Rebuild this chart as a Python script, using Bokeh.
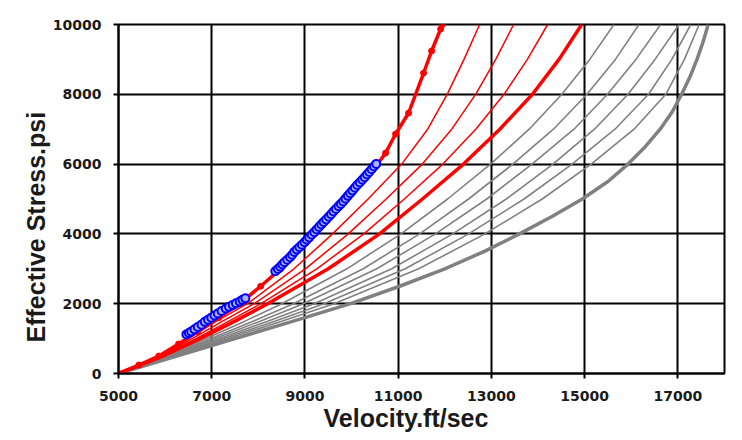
from bokeh.plotting import figure
from bokeh.models import Range1d, FixedTicker, Title
from bokeh.embed import file_html
from bokeh.resources import INLINE

# ---- data ----
stress = [0, 250, 500, 1000, 1500, 2000, 3000, 4000, 5000, 6000, 7000, 8000, 9000, 10000]

red_thin_1 = [5000, 5451, 5889, 6498, 7104, 7768, 8766, 9592, 10354, 11075, 11632, 12051, 12412, 12747]
red_thin_2 = [5000, 5461, 5909, 6582, 7236, 7912, 9010, 9928, 10742, 11517, 12148, 12661, 13092, 13476]
red_thin_3 = [5000, 5470, 5930, 6666, 7368, 8056, 9255, 10264, 11131, 11958, 12664, 13270, 13771, 14206]
red_thick = [5000, 5480, 5950, 6750, 7500, 8200, 9500, 10600, 11520, 12400, 13180, 13880, 14450, 14936]

grey_1 = [5000, 5505, 6001, 6878, 7713, 8503, 9900, 11060, 12060, 12980, 13810, 14510, 15110, 15628]
grey_2 = [5000, 5525, 6043, 6983, 7888, 8752, 10250, 11460, 12510, 13460, 14330, 15050, 15660, 16166]
grey_3 = [5000, 5542, 6079, 7073, 8038, 8965, 10540, 11800, 12900, 13870, 14770, 15490, 16100, 16631]
grey_4 = [5000, 5561, 6118, 7170, 8200, 9197, 10860, 12170, 13320, 14320, 15210, 15930, 16510, 17026]
grey_5 = [5000, 5579, 6154, 7260, 8350, 9410, 11150, 12510, 13700, 14730, 15650, 16370, 16870, 17278]
grey_6 = [5000, 5596, 6190, 7350, 8500, 9624, 11440, 12860, 14090, 15140, 16060, 16740, 17140, 17456]

stress_outer = [0, 250, 500, 1000, 1500, 2000, 2500, 3000, 3500, 4000, 4500, 5000, 5500,
                6000, 6500, 7000, 7500, 8000, 8500, 9000, 9500, 10000]
grey_thick = [5000, 5625, 6250, 7500, 8750, 9980, 11030, 12000, 12850, 13600, 14300, 14950, 15500,
              15930, 16300, 16620, 16880, 17080, 17260, 17410, 17540, 17650]

trend_velocity = [5000, 5436, 5865, 6288, 6700, 7150, 7600, 8050, 8480, 9200, 9900, 10560,
                  10730, 10944, 11223, 11545, 11717, 11910, 11950]
trend_stress = [0, 243, 501, 845, 1200, 1600, 2000, 2500, 3000, 4000, 5000, 6000,
                6318, 6862, 7464, 8610, 9241, 9871, 10000]

blue1_velocity = [6457, 6510, 6560, 6630, 6700, 6780, 6850, 6920, 6990, 7060, 7130,
                  7210, 7300, 7370, 7450, 7520, 7600, 7660, 7721]
blue1_stress = [1121, 1160, 1200, 1265, 1330, 1400, 1480, 1540, 1600, 1660, 1720,
                1790, 1860, 1910, 1960, 2010, 2060, 2110, 2155]
blue2_velocity = [8364, 8420, 8470, 8515, 8560, 8620, 8680, 8725, 8770, 8825, 8880, 8935,
                  8990, 9040, 9090, 9145, 9200, 9250, 9300, 9350, 9400, 9455, 9510, 9560,
                  9610, 9665, 9720, 9770, 9820, 9870, 9920, 9970, 10020, 10070, 10120,
                  10175, 10230, 10280, 10330, 10380, 10430, 10480, 10529]
blue2_stress = [2931, 2995, 3060, 3125, 3190, 3260, 3330, 3405, 3480, 3550, 3620, 3690,
                3760, 3830, 3900, 3975, 4050, 4125, 4200, 4270, 4340, 4415, 4490, 4565,
                4640, 4715, 4790, 4860, 4930, 5010, 5090, 5165, 5240, 5320, 5400,
                5475, 5550, 5625, 5700, 5775, 5850, 5930, 6006]

x_ticks = [5000, 7000, 9000, 11000, 13000, 15000, 17000]
y_ticks = [0, 2000, 4000, 6000, 8000, 10000]
x_title = "Velocity.ft/sec"
y_title = "Effective Stress.psi"

# ---- figure ----
p = figure(width=740, height=438, x_range=Range1d(5000, 18000), y_range=Range1d(0, 10000),
           output_backend="svg", toolbar_location=None,
           min_border_left=118, min_border_right=16, min_border_top=24, min_border_bottom=65)
p.background_fill_color = "white"
p.border_fill_color = "white"
p.outline_line_color = "black"
p.outline_line_width = 2

p.xaxis.ticker = FixedTicker(ticks=x_ticks)
p.yaxis.ticker = FixedTicker(ticks=y_ticks)
for ax in (p.xaxis[0], p.yaxis[0]):
    ax.major_label_text_font = "DejaVu Sans"
    ax.major_label_text_font_style = "bold"
    ax.major_label_text_font_size = "14px"
    ax.major_label_text_color = "#1a1a1a"
    ax.axis_line_color = "black"
    ax.axis_line_width = 2
    ax.major_tick_line_color = "black"
    ax.major_tick_line_width = 2
    ax.major_tick_out = 5
    ax.major_tick_in = 0
    ax.minor_tick_line_color = None
    ax.major_label_standoff = 12
p.yaxis.formatter.use_scientific = False
p.xaxis.formatter.use_scientific = False

p.xgrid.grid_line_color = "black"
p.xgrid.grid_line_width = 2
p.ygrid.grid_line_color = "black"
p.ygrid.grid_line_width = 2

grey = "#808080"
for g in (grey_1, grey_2, grey_3, grey_4, grey_5, grey_6):
    p.line(g, stress, line_color=grey, line_width=1.6)
p.line(grey_thick, stress_outer, line_color=grey, line_width=3.5)

for r in (red_thin_1, red_thin_2, red_thin_3):
    p.line(r, stress, line_color="red", line_width=1.5)
p.line(red_thick, stress, line_color="red", line_width=3.5)

p.line(trend_velocity, trend_stress, line_color="red", line_width=3.5)
p.scatter(trend_velocity, trend_stress, marker="circle", size=6, fill_color="red", line_color="red")

for bv, bs in ((blue1_velocity, blue1_stress), (blue2_velocity, blue2_stress)):
    p.scatter(bv, bs, marker="circle", size=8, fill_color="#aab4ff", line_color="blue", line_width=2)

p.add_layout(Title(text=x_title, align="left", offset=205, text_font="Liberation Sans",
                   text_font_style="bold", text_font_size="25px", text_color="#1a1a1a",
                   standoff=-4), "below")
p.add_layout(Title(text=y_title, align="left", offset=31, text_font="Liberation Sans",
                   text_font_style="bold", text_font_size="25px", text_color="#1a1a1a",
                   standoff=0), "left")

open("out.html", "w").write(file_html(p, INLINE))
